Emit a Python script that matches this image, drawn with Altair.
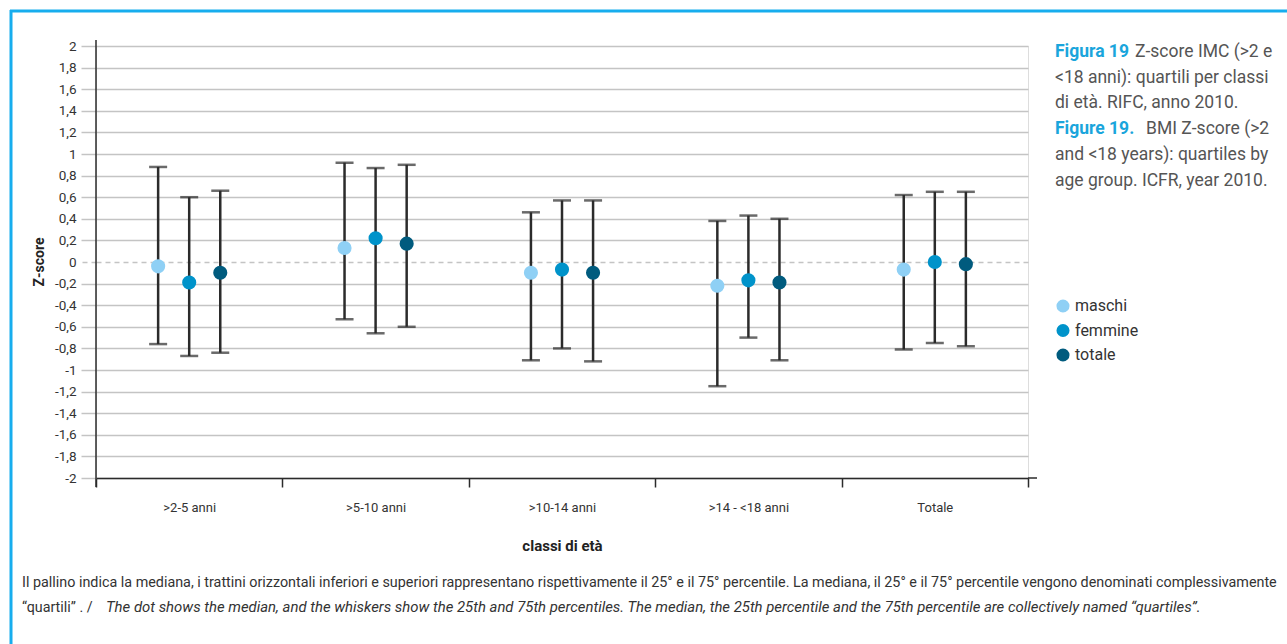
import altair as alt
import pandas as pd

categories = [">2-5 anni", ">5-10 anni", ">10-14 anni", ">14 - <18 anni", "Totale"]
series = ["maschi", "femmine", "totale"]
colors = ["#8fd0f5", "#0093ca", "#005b7e"]

maschi_med = [-0.04, 0.13, -0.10, -0.22, -0.07]
maschi_q25 = [-0.76, -0.53, -0.91, -1.15, -0.81]
maschi_q75 = [0.88, 0.92, 0.46, 0.38, 0.62]
femmine_med = [-0.19, 0.22, -0.07, -0.17, 0.0]
femmine_q25 = [-0.87, -0.66, -0.80, -0.70, -0.75]
femmine_q75 = [0.60, 0.87, 0.57, 0.43, 0.65]
totale_med = [-0.10, 0.17, -0.10, -0.19, -0.02]
totale_q25 = [-0.84, -0.60, -0.92, -0.91, -0.78]
totale_q75 = [0.66, 0.90, 0.57, 0.40, 0.65]

y_ticks = [-2, -1.8, -1.6, -1.4, -1.2, -1, -0.8, -0.6, -0.4, -0.2, 0,
           0.2, 0.4, 0.6, 0.8, 1, 1.2, 1.4, 1.6, 1.8, 2]

rows = []
for s, med, q25, q75 in [("maschi", maschi_med, maschi_q25, maschi_q75),
                          ("femmine", femmine_med, femmine_q25, femmine_q75),
                          ("totale", totale_med, totale_q25, totale_q75)]:
    for c, m, a, b in zip(categories, med, q25, q75):
        rows.append({"classe": c, "serie": s, "med": m, "q25": a, "q75": b})
df = pd.DataFrame(rows)

FONT = "Roboto, sans-serif"
W, H = 932, 432
PL, PT = 96, 46
INK = "#2b2b2b"
GRID = "#c4c4c4"

x_enc = alt.X("classe:N", sort=categories,
              scale=alt.Scale(paddingInner=0, paddingOuter=0),
              axis=alt.Axis(title="classi di età", labelAngle=0, tickBand="extent",
                            tickColor=INK, tickSize=9, tickWidth=1.5,
                            domainColor=INK, domainWidth=1.5,
                            labelFont=FONT, labelFontSize=13, labelColor="#333333",
                            labelPadding=14, titleFont=FONT, titleFontSize=15,
                            titleFontWeight="bold", titleColor="#222222",
                            titlePadding=24, grid=False))
# two empty slots on the sides keep the three markers close to the band centre
xo_enc = alt.XOffset("serie:N",
                     scale=alt.Scale(domain=["_l"] + series + ["_r"],
                                     paddingInner=0, paddingOuter=0.5))
y_scale = alt.Scale(domain=[-2, 2], nice=False, zero=False)
y_axis = alt.Axis(title=None, values=y_ticks, domain=False, labelOverlap=False,
                  grid=True, gridColor=GRID, gridWidth=1.5,
                  gridDash=alt.condition("datum.value === 0", alt.value([5, 4]), alt.value([])),
                  tickColor=GRID, tickSize=15, tickWidth=1.5,
                  tickDash=alt.condition("datum.value === 0", alt.value([5, 4]), alt.value([])),
                  labelExpr="replace(toString(round(datum.value*10)/10), '.', ',')",
                  labelFont=FONT, labelFontSize=13.5, labelColor="#333333",
                  labelPadding=5)

base = alt.Chart(df)

rules = base.mark_rule(color=INK, strokeWidth=2.5).encode(
    x=x_enc, xOffset=xo_enc,
    y=alt.Y("q25:Q", scale=y_scale, axis=y_axis),
    y2="q75:Q",
)
cap_lo = base.mark_tick(color=INK, thickness=2.5, size=18).encode(
    x=x_enc, xOffset=xo_enc, y=alt.Y("q25:Q", scale=y_scale, axis=y_axis))
cap_hi = base.mark_tick(color=INK, thickness=2.5, size=18).encode(
    x=x_enc, xOffset=xo_enc, y=alt.Y("q75:Q", scale=y_scale, axis=y_axis))

points = base.mark_circle(size=200, opacity=1).encode(
    x=x_enc, xOffset=xo_enc,
    y=alt.Y("med:Q", scale=y_scale, axis=y_axis),
    color=alt.Color("serie:N", sort=series,
                    scale=alt.Scale(domain=series, range=colors),
                    legend=alt.Legend(title=None, orient="none", legendX=959, legendY=252,
                                      symbolType="circle", symbolSize=170,
                                      symbolStrokeWidth=0, labelFont=FONT,
                                      labelFontSize=16, labelColor="#333333",
                                      rowPadding=8.5, labelOffset=4)),
)

one = alt.Data(values=[{"a": 1}])


def txt(text, x, y, size=17.5, color="#555555", weight="normal", style="normal",
        angle=0, align="left"):
    return alt.Chart(one).mark_text(
        text=text, font=FONT, fontSize=size, color=color, fontWeight=weight,
        fontStyle=style, angle=angle, align=align, baseline="middle"
    ).encode(x=alt.value(x - PL), y=alt.value(y - PT))


yaxis = alt.Chart(one).mark_rule(color=INK, strokeWidth=1.5).encode(
    x=alt.value(0), y=alt.value(40 - PT), y2=alt.value(487 - PT))
xaxis_ext = alt.Chart(one).mark_rule(color=INK, strokeWidth=1.5).encode(
    x=alt.value(W), x2=alt.value(W + 9), y=alt.value(H))

frame_top = alt.Chart(one).mark_rule(color="#17adee", strokeWidth=3).encode(
    x=alt.value(10 - PL), x2=alt.value(1287 - PL), y=alt.value(11 - PT))
frame_left = alt.Chart(one).mark_rule(color="#17adee", strokeWidth=3).encode(
    x=alt.value(11 - PL), y=alt.value(10 - PT), y2=alt.value(644 - PT))

BLUE = "#1aa5dc"
texts = [
    txt("Z-score", 40, 262, size=14, color="#222222", weight="bold", angle=270, align="center"),
    txt("Figura 19", 1055, 52, color=BLUE, weight="bold"),
    txt("Z-score IMC (>2 e", 1135, 52),
    txt("<18 anni): quartili per classi", 1055, 78),
    txt("di età. RIFC, anno 2010.", 1055, 103),
    txt("Figure 19.", 1055, 129, color=BLUE, weight="bold"),
    txt("BMI Z-score (>2", 1146, 129),
    txt("and <18 years): quartiles by", 1055, 155),
    txt("age group. ICFR, year 2010.", 1055, 181),
    txt("Il pallino indica la mediana, i trattini orizzontali inferiori e superiori rappresentano "
        "rispettivamente il 25° e il 75° percentile. La mediana, il 25° e il 75° percentile vengono "
        "denominati complessivamente", 22, 583, size=14.35, color="#333333"),
    txt("“quartili” . /", 22, 608, size=14.3, color="#333333"),
    txt("The dot shows the median, and the whiskers show the 25th and 75th percentiles. "
        "The median, the 25th percentile and the 75th percentile are collectively named “quartiles”.",
        106, 608, size=14.9, color="#333333", style="italic"),
]

chart = alt.layer(rules, cap_lo, cap_hi, points, yaxis, xaxis_ext, frame_top, frame_left, *texts).properties(
    width=W, height=H,
    padding={"left": PL, "top": PT, "right": 1287 - PL - W, "bottom": 644 - PT - H},
    autosize=alt.AutoSizeParams(type="none"),
).configure_view(stroke=None).configure(background="white")

chart.save("out.html", embed_options={"renderer": "svg", "actions": False})
